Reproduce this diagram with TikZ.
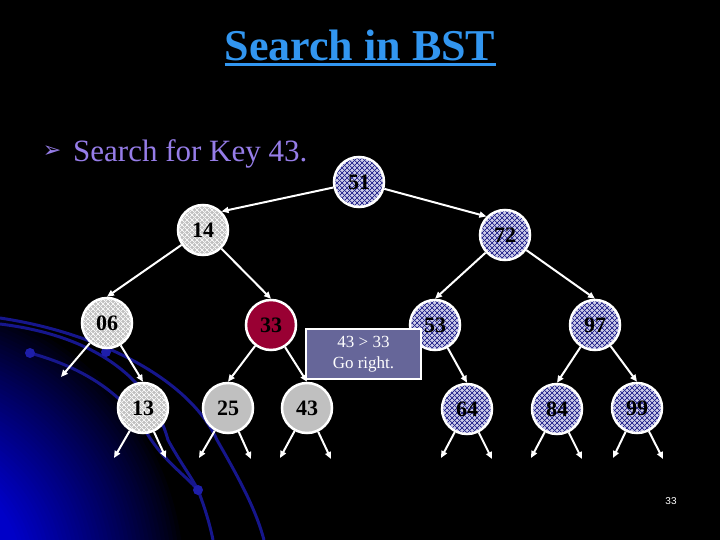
\documentclass[tikz,border=0pt]{standalone}
\usepackage{fontspec}
\setmainfont{Liberation Serif}
\newfontfamily\dejavu{DejaVu Sans}
\newfontfamily\arialf{Liberation Sans}
\usetikzlibrary{arrows.meta,patterns.meta}
\definecolor{ngray}{RGB}{192,192,192}
\definecolor{nlav}{RGB}{205,205,232}
\definecolor{navyc}{RGB}{0,0,120}
\definecolor{crimsonc}{RGB}{153,0,51}
\definecolor{titleblue}{RGB}{50,150,240}
\definecolor{textpurple}{RGB}{150,125,232}
\definecolor{boxc}{RGB}{102,102,153}
\definecolor{glowc}{RGB}{0,0,200}
\definecolor{arcc}{RGB}{22,22,140}
\definecolor{dotc}{RGB}{30,30,170}
\tikzdeclarepattern{name=dgridwide, type=uncolored,
  bounding box={(0pt,0pt) and (5pt,5pt)}, tile size={(5pt,5pt)},
  code={\draw[line width=0.8pt] (-1pt,-1pt) -- (6pt,6pt) (-1pt,6pt) -- (6pt,-1pt);}}
\tikzdeclarepattern{name=dgridfine, type=uncolored,
  bounding box={(0pt,0pt) and (4.5pt,4.5pt)}, tile size={(4.5pt,4.5pt)},
  code={\draw[line width=0.6pt] (-1pt,-1pt) -- (5.5pt,5.5pt) (-1pt,5.5pt) -- (5.5pt,-1pt);}}
\tikzset{
  bst/.style={circle, minimum size=50pt, inner sep=0pt, draw=white, line width=2.5pt,
    font=\fontsize{22}{22}\selectfont\bfseries, text=black},
  graynode/.style={bst, preaction={fill=ngray}, pattern=dgridfine, pattern color=white},
  lavnode/.style={bst, preaction={fill=nlav}, pattern=dgridwide, pattern color=navyc},
  plainnode/.style={bst, fill=ngray},
  rednode/.style={bst, fill=crimsonc},
  edge/.style={draw=white, line width=2pt, -{Triangle[length=7pt,width=6pt]}},
  arcline/.style={draw=arcc, line width=3pt},
}
\begin{document}
\begin{tikzpicture}[x=1pt, y=-1pt]
\useasboundingbox (0,0) rectangle (720,540);
\fill[black] (0,0) rectangle (720,540);
\begin{scope}
  \clip (0,0) rectangle (720,540);
  \foreach \r in {288,284,...,100}{
    \pgfmathsetmacro\p{min(100,100*((288-\r)/165)^0.85)}
    \fill[glowc!\p!black] (-100,580) circle (\r);
  }
  \draw[arcline] (0,318) .. controls (100,333) and (190,380) .. (217,440) .. controls (240,480) and (256,510) .. (264,540);
  \draw[arcline] (0,324) .. controls (90,335) and (150,375) .. (168,440) .. controls (180,462) and (192,478) .. (198,490) .. controls (205,508) and (210,525) .. (213,540);
  \draw[arcline] (30,353) .. controls (85,368) and (125,395) .. (148,435) .. controls (165,462) and (185,475) .. (198,490);
  \fill[dotc] (30,353) circle (5);
  \fill[dotc] (106,352) circle (5);
  \fill[dotc] (198,490) circle (5);
\end{scope}

% title and bullet
\node[anchor=base, inner sep=0pt, text=titleblue, font=\fontsize{44}{44}\selectfont\bfseries] (title) at (360,61) {Search in BST};
\draw[titleblue, line width=3pt] ([yshift=-4pt]title.base west) -- ([yshift=-4pt]title.base east);
\node[text=textpurple, inner sep=0pt, font=\dejavu\fontsize{22}{22}\selectfont] (bullet) at (52,152) {➢};
\node[anchor=base west, inner sep=0pt, text=textpurple, font=\fontsize{31}{31}\selectfont] (key) at (73,162) {Search for Key 43.};

% nodes
\node[lavnode] (n51) at (359,182) {51};
\node[graynode] (n14) at (203,230) {14};
\node[lavnode] (n72) at (505,235) {72};
\node[graynode] (n06) at (107,323) {06};
\node[rednode] (n33) at (271,325) {33};
\node[lavnode] (n53) at (435,325) {53};
\node[lavnode] (n97) at (595,325) {97};
\node[graynode] (n13) at (143,408) {13};
\node[plainnode] (n25) at (228,408) {25};
\node[plainnode] (n43) at (307,408) {43};
\node[lavnode] (n64) at (467,409) {64};
\node[lavnode] (n84) at (557,409) {84};
\node[lavnode] (n99) at (637,408) {99};

% free ends
\coordinate (l06) at (61,377);
\coordinate (l53) at (398,378);
\coordinate (l13a) at (114,458); \coordinate (l13b) at (166,458);
\coordinate (l25a) at (199,458); \coordinate (l25b) at (251,459);
\coordinate (l43a) at (280,458); \coordinate (l43b) at (331,459);
\coordinate (l64a) at (441,458); \coordinate (l64b) at (492,459);
\coordinate (l84a) at (531,458); \coordinate (l84b) at (582,459);
\coordinate (l99a) at (613,458); \coordinate (l99b) at (663,459);

% edges
\draw[edge] (n51) -- (n14.north east);
\draw[edge] (n51) -- (n72.north west);
\draw[edge] (n14) -- (n06.north);
\draw[edge] (n14) -- (n33.north);
\draw[edge] (n72) -- (n53.north);
\draw[edge] (n72) -- (n97.north);
\draw[edge] (n06) -- (l06);
\draw[edge] (n06) -- (n13.north);
\draw[edge] (n33) -- (n25.north);
\draw[edge] (n33) -- (n43.north);
\draw[edge] (n53) -- (l53);
\draw[edge] (n53) -- (n64.north);
\draw[edge] (n97) -- (n84.north);
\draw[edge] (n97) -- (n99.north);
\foreach \n in {13,25,43,64,84,99}{
  \draw[edge] (n\n) -- (l\n a);
  \draw[edge] (n\n) -- (l\n b);
}

% comment box
\node[draw=white, line width=2pt, fill=boxc, text=white, inner sep=0pt,
  minimum width=115pt, minimum height=50pt, align=center,
  font=\fontsize{17}{21}\selectfont] (box) at (363.5,354) {43 > 33\\Go right.};

% page number
\node[text=white, inner sep=0pt, font=\arialf\fontsize{10}{10}\selectfont] (page) at (671,501) {33};
\end{tikzpicture}
\end{document}
